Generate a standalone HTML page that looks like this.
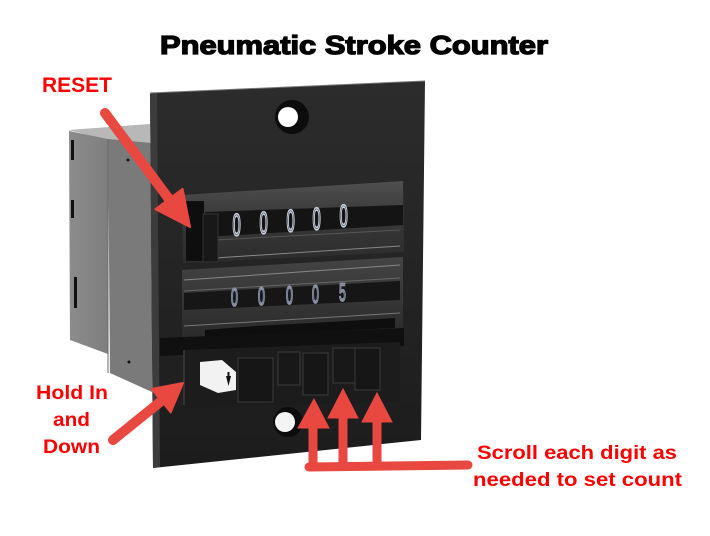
<!DOCTYPE html>
<html><head><meta charset="utf-8"><style>
html,body{margin:0;padding:0;background:#fff;}
svg{display:block;}
</style></head><body>
<svg width="710" height="536" viewBox="0 0 710 536" xmlns="http://www.w3.org/2000/svg">
<defs>
<linearGradient id="pan" x1="0" y1="0" x2="0" y2="1">
<stop offset="0" stop-color="#2c2c2c"/><stop offset="0.5" stop-color="#242424"/><stop offset="1" stop-color="#1c1c1c"/>
</linearGradient>
<linearGradient id="w1" x1="0" y1="0" x2="0" y2="1">
<stop offset="0" stop-color="#505050"/><stop offset="0.4" stop-color="#3a3a3a"/><stop offset="1" stop-color="#2c2c2c"/>
</linearGradient>
<linearGradient id="w2" x1="0" y1="0" x2="0" y2="1">
<stop offset="0" stop-color="#444"/><stop offset="1" stop-color="#2a2a2a"/>
</linearGradient>
<linearGradient id="gb" x1="0" y1="0" x2="1" y2="0">
<stop offset="0" stop-color="#8c8c8c"/><stop offset="1" stop-color="#7e7e7e"/>
</linearGradient>
</defs>
<rect width="710" height="536" fill="#fff"/>

<!-- title -->
<text x="160" y="54" font-family="Liberation Sans, Arial, sans-serif" font-weight="bold" font-size="26" fill="#000" stroke="#000" stroke-width="1.3" textLength="388" lengthAdjust="spacingAndGlyphs">Pneumatic Stroke Counter</text>

<!-- gray side box -->
<polygon points="68,130 150,124 150,147 108,140" fill="#b8b8b8"/>
<polygon points="69,131 108,139 108,354 70,340" fill="url(#gb)"/>
<polygon points="108,139 152,143 152,392 110,373" fill="#7a7a7a"/>
<line x1="108" y1="139" x2="108" y2="373" stroke="#6a6a6a" stroke-width="1"/>
<rect x="71" y="140" width="3" height="20" fill="#111"/>
<rect x="71" y="200" width="3" height="18" fill="#111"/>
<rect x="74" y="277" width="3" height="31" fill="#111"/>
<circle cx="128" cy="160" r="1.5" fill="#111"/>
<circle cx="129" cy="362" r="1.5" fill="#111"/>

<!-- panel -->
<polygon points="150,93 425,81 421,440 153,468" fill="url(#pan)"/>
<polygon points="150,93 157,93 160,467 153,468" fill="#3c3c3c"/>
<line x1="150" y1="93" x2="425" y2="81" stroke="#777" stroke-width="1"/>

<!-- top hole -->
<circle cx="292" cy="117" r="17" fill="#0c0c0c"/>
<circle cx="288" cy="117" r="10" fill="#fff"/>

<!-- upper window -->
<polygon points="182,195 403,181 404,252 183,263" fill="url(#w1)"/>
<polygon points="205,212 403,205 403,225 205,237" fill="#141414"/>
<line x1="215" y1="258" x2="400" y2="246" stroke="#888" stroke-width="1"/>
<line x1="215" y1="240" x2="400" y2="230" stroke="#555" stroke-width="1"/>
<!-- reset button -->
<rect x="186" y="201" width="18" height="60" fill="#0e0e0e"/>
<rect x="203" y="214" width="15" height="48" fill="#181818" stroke="#333" stroke-width="1"/>
<!-- upper digits -->
<g font-family="Liberation Sans, Arial, sans-serif" font-size="24" fill="none" stroke="#c8d0e0" stroke-width="1.4">
<text transform="translate(232.5,235.5) scale(0.62,1.3)">0</text>
<text transform="translate(259.5,233.5) scale(0.62,1.3)">0</text>
<text transform="translate(286.5,231.5) scale(0.62,1.3)">0</text>
<text transform="translate(312.5,229.5) scale(0.62,1.3)">0</text>
<text transform="translate(339.5,226.5) scale(0.62,1.3)">0</text>
</g>

<!-- lower window -->
<polygon points="182,270 403,257 403,328 182,338" fill="url(#w2)"/>
<line x1="184" y1="280" x2="400" y2="265" stroke="#888" stroke-width="1"/>
<line x1="184" y1="291" x2="400" y2="278" stroke="#666" stroke-width="1"/>
<polygon points="184,293 400,281 400,300 184,310" fill="#161616"/>
<line x1="184" y1="326" x2="400" y2="313" stroke="#777" stroke-width="1"/>
<polygon points="205,330 255,326 330,322 395,318 395,328 205,337" fill="#0e0e0e"/>
<g font-family="Liberation Sans, Arial, sans-serif" font-size="20" fill="none" stroke="#8a93a8" stroke-width="1.4">
<text transform="translate(231,306) scale(0.62,1.25)">0</text>
<text transform="translate(258,305) scale(0.62,1.25)">0</text>
<text transform="translate(286,304) scale(0.62,1.25)">0</text>
<text transform="translate(312,303) scale(0.62,1.25)">0</text>
<text transform="translate(339,301) scale(0.62,1.25)">5</text>
</g>

<!-- button area -->
<polygon points="160,338 404,328 404,346 160,356" fill="#101010"/>
<polygon points="183,350 400,342 400,402 183,408" fill="#1c1c1c"/>
<line x1="184" y1="350" x2="184" y2="405" stroke="#333" stroke-width="2"/>
<!-- white button -->
<polygon points="200,362 222,360 236,372 236,390 218,393 200,385" fill="#f2f2f2"/>
<polygon points="226,376 231,376 228.5,386" fill="#111"/>
<rect x="227.5" y="372" width="2" height="5" fill="#111"/>
<!-- black keys -->
<g stroke="#3a3a3a" stroke-width="1">
<rect x="238" y="358" width="35" height="44" fill="#161616"/>
<rect x="278" y="352" width="22" height="33" fill="#181818"/>
<rect x="303" y="353" width="25" height="42" fill="#161616"/>
<rect x="333" y="348" width="22" height="35" fill="#181818"/>
<rect x="355" y="348" width="25" height="42" fill="#161616"/>
</g>
<!-- bottom hole -->
<circle cx="288" cy="422" r="15" fill="#0c0c0c"/>
<circle cx="285" cy="422" r="10" fill="#f4f4f4"/>

<!-- red arrows -->
<g fill="#e84840" stroke="#e84840">
<line x1="105" y1="113" x2="172" y2="203" stroke-width="10" stroke-linecap="round"/>
<polygon points="190,227 182.6,188.8 155.4,209.2" stroke-width="2" stroke-linejoin="round"/>
<line x1="113" y1="440" x2="165" y2="398" stroke-width="10" stroke-linecap="round"/>
<polygon points="183,383 151.7,389 170.7,412.4" stroke-width="2" stroke-linejoin="round"/>
<line x1="313" y1="425" x2="313" y2="467" stroke-width="9"/>
<polygon points="314,399 298,428 329,428" stroke-width="1"/>
<line x1="343" y1="415" x2="343" y2="467" stroke-width="9"/>
<polygon points="343,389 328,418 358,418" stroke-width="1"/>
<line x1="377" y1="419" x2="377" y2="467" stroke-width="9"/>
<polygon points="377,393 362,422 392,422" stroke-width="1"/>
<line x1="309" y1="467" x2="468" y2="465" stroke-width="9" stroke-linecap="round"/>
</g>

<!-- red labels -->
<g font-family="Liberation Sans, Arial, sans-serif" font-weight="bold" fill="#f00">
<text x="42" y="92" font-size="21" textLength="70" lengthAdjust="spacingAndGlyphs">RESET</text>
<text x="36" y="399" font-size="19" textLength="72" lengthAdjust="spacingAndGlyphs">Hold In</text>
<text x="53" y="426" font-size="19" textLength="37" lengthAdjust="spacingAndGlyphs">and</text>
<text x="43" y="453" font-size="19" textLength="57" lengthAdjust="spacingAndGlyphs">Down</text>
<text x="477" y="459" font-size="19" textLength="200" lengthAdjust="spacingAndGlyphs">Scroll each digit as</text>
<text x="473" y="486" font-size="19" textLength="209" lengthAdjust="spacingAndGlyphs">needed to set count</text>
</g>
</svg>
</body></html>
